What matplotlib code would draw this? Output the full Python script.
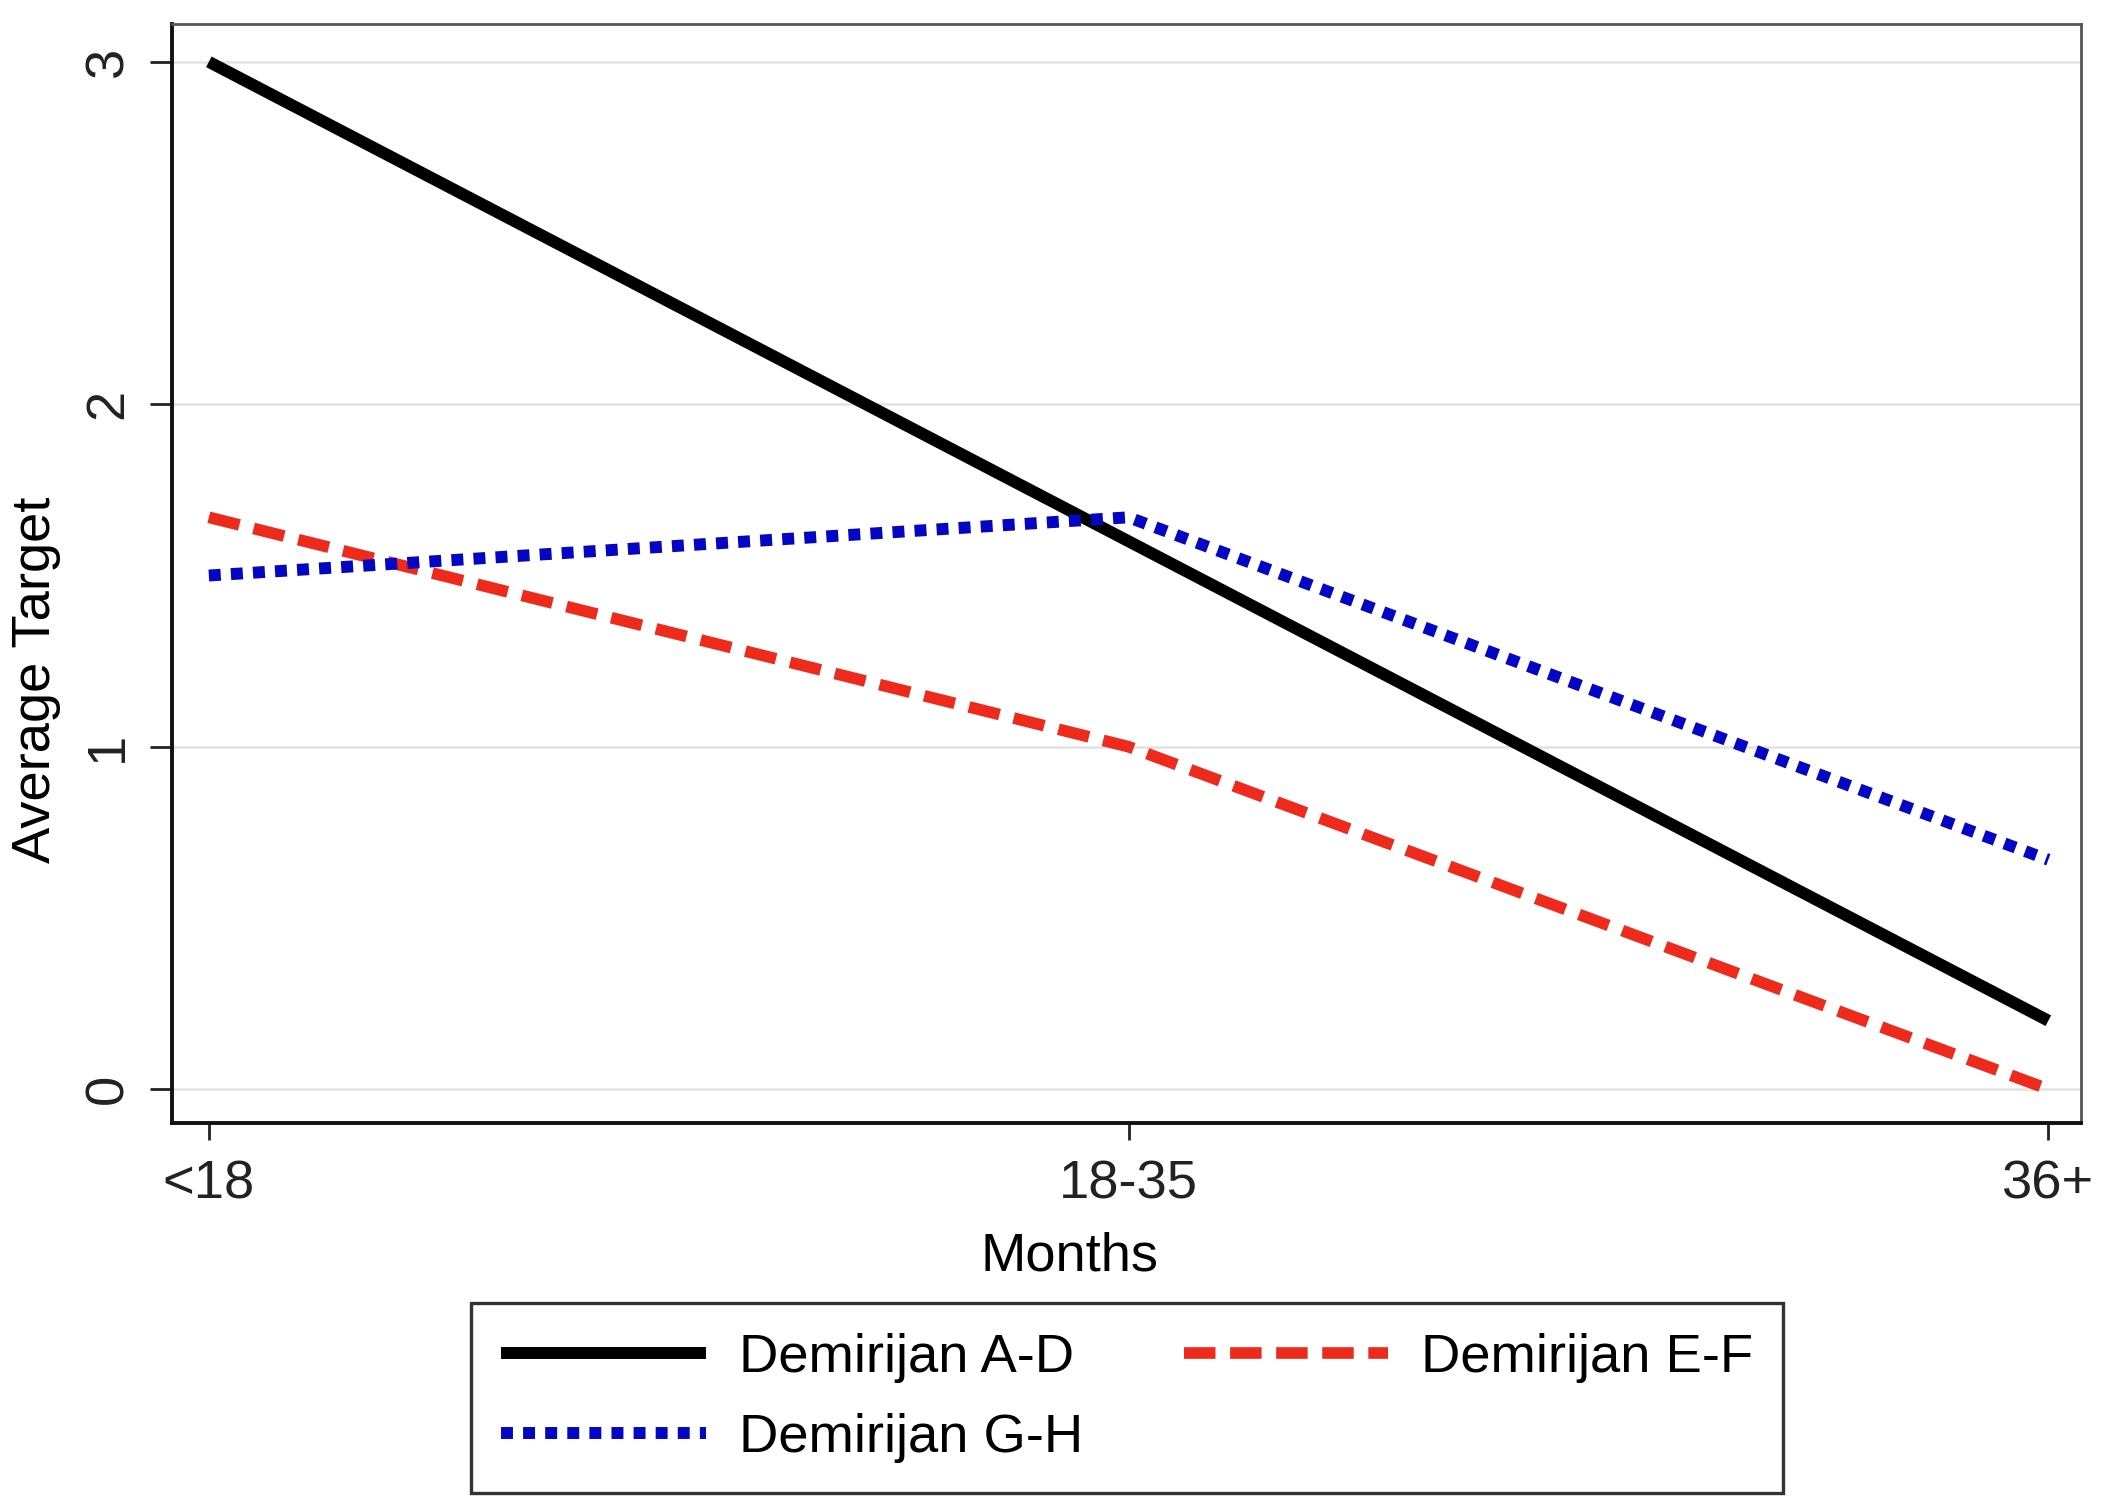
"""Average target by months since diagnosis, split by Demirijan stage group."""
import matplotlib
matplotlib.use("Agg")
import matplotlib.pyplot as plt  # noqa: E402

months = ["<18", "18-35", "36+"]
demirijan_ad = [3.0, 1.6, 0.2]
demirijan_ef = [1.67, 1.0, 0.0]
demirijan_gh = [1.5, 1.67, 0.67]
y_ticks = [0, 1, 2, 3]

plt.rcParams["font.family"] = ["Liberation Sans", "DejaVu Sans"]

fig = plt.figure(figsize=(10.555, 7.55), dpi=200)
ax = fig.add_axes([0.0815, 0.256, 0.9045, 0.728])

x = range(len(months))
h_ad, = ax.plot(x, demirijan_ad, color="black", lw=4.3, solid_capstyle="butt",
                label="Demirijan A-D")
h_ef, = ax.plot(x, demirijan_ef, color="#ee2a1c", lw=4.2, ls=(0, (2.7, 1.25)),
                dash_capstyle="butt", label="Demirijan E-F")
h_gh, = ax.plot(x, demirijan_gh, color="#0505c4", lw=4.3, ls=(0, (1.0, 0.85)),
                dash_capstyle="butt", label="Demirijan G-H")

ax.set_xlim(-0.04, 2.036); ax.set_ylim(-0.1, 3.11)
ax.set_xticks(list(x)); ax.set_xticklabels(months)
ax.set_yticks(y_ticks); ax.set_yticklabels([str(t) for t in y_ticks], rotation=90, va="center")
ax.tick_params(axis="both", labelsize=19.6, colors="#222222", width=1.0)
ax.tick_params(axis="y", length=8, pad=6)
ax.tick_params(axis="x", length=6, pad=7)
ax.grid(axis="y", color="#e2e2e2", lw=0.9); ax.set_axisbelow(True)
for side, sp in ax.spines.items():
    sp.set_linewidth(1.4 if side in ("left", "bottom") else 1.0)
    sp.set_color("#111111" if side in ("left", "bottom") else "#555555")

ax.set_xlabel("Months", fontsize=19.6, labelpad=6)
ax.xaxis.set_label_coords(0.47, -0.098)
ax.set_ylabel("Average Target", fontsize=19.6, labelpad=8)
ax.yaxis.label.set_y(0.404)

leg = fig.legend([h_ad, h_gh, h_ef], ["Demirijan A-D", "Demirijan G-H", "Demirijan E-F"],
                 loc="center", bbox_to_anchor=(0.534, 0.074), ncol=2, fontsize=19.6,
                 handlelength=3.76, handletextpad=0.6, columnspacing=1.85,
                 labelspacing=0.55, borderpad=0.55, fancybox=False, framealpha=1)
leg.get_frame().set_edgecolor("#333333"); leg.get_frame().set_linewidth(1.2)

fig.savefig("out.png", dpi=200)
